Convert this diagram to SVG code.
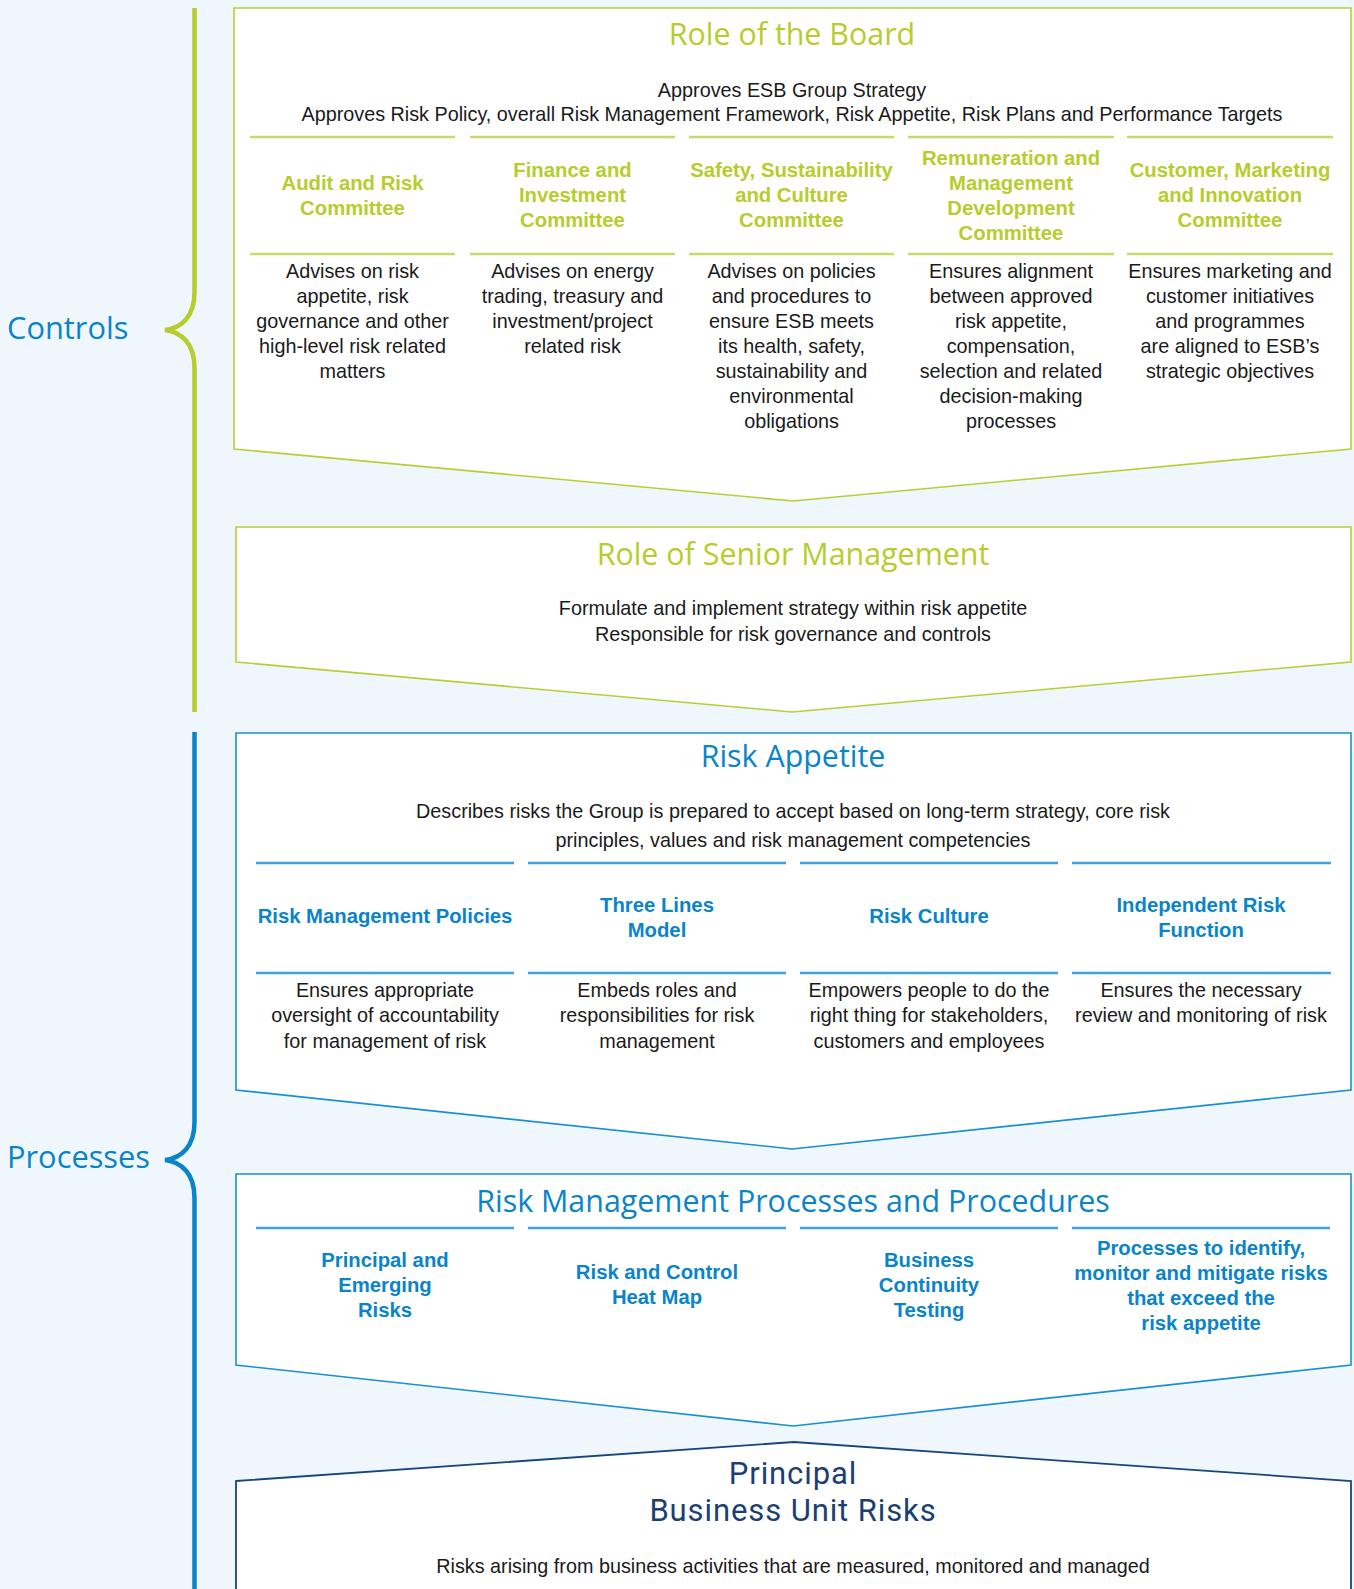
<svg xmlns="http://www.w3.org/2000/svg" width="1354" height="1589" viewBox="0 0 1354 1589">
<style>
.body{font-family:"Liberation Sans",Arial,sans-serif;font-size:19.8px;fill:#1a1a1a;text-anchor:middle}
.gh{font-family:"Liberation Sans",Arial,sans-serif;font-size:20.3px;font-weight:bold;fill:#b5cd2d;text-anchor:middle}
.bh{font-family:"Liberation Sans",Arial,sans-serif;font-size:20.3px;font-weight:bold;fill:#0a84c9;text-anchor:middle}
.title{font-family:"Open Sans","Noto Sans",sans-serif;font-size:30.4px;text-anchor:middle}
.ntitle{font-family:Roboto,"Open Sans",sans-serif;font-size:31px;letter-spacing:0.9px;fill:#1b3f73;text-anchor:middle}
.side{font-family:"Open Sans","Noto Sans",sans-serif;font-size:30.8px;fill:#0a84c9}
.gbox{fill:#fff;stroke:#b7cf35;stroke-width:1.6}
.bbox{fill:#fff;stroke:#1a8fd3;stroke-width:1.6}
.nbox{fill:#fff;stroke:#17467e;stroke-width:1.8}
.gsep{stroke:#c6da6a;stroke-width:2.4}
.bsep{stroke:#3ea3dc;stroke-width:2.4}
</style>
<rect x="0" y="0" width="1354" height="1589" fill="#eff7fd"/>

<g id="controls-brace">
<path d="M194.5,8 V292 C194.5,316 182,328 165,330 C182,332 194.5,344 194.5,368 V712" fill="none" stroke="#b5cd2d" stroke-width="4.5"/>
<text class="side" x="7" y="339">Controls</text>
</g>

<g id="processes-brace">
<path d="M194.5,732 V1122 C194.5,1146 182,1158 165,1160 C182,1162 194.5,1174 194.5,1198 V1589" fill="none" stroke="#0a84c9" stroke-width="4.5"/>
<text class="side" x="7" y="1168">Processes</text>
</g>

<g id="board">
<polygon class="gbox" points="234,8 1351,8 1351,449 793,501 234,449"/>
<text class="title" x="792" y="45" fill="#b5cd2d">Role of the Board</text>
<text class="body" x="792" y="97">Approves ESB Group Strategy</text>
<text class="body" x="792" y="121">Approves Risk Policy, overall Risk Management Framework, Risk Appetite, Risk Plans and Performance Targets</text>
<line class="gsep" x1="250" y1="137" x2="455" y2="137"/>
<line class="gsep" x1="470" y1="137" x2="675" y2="137"/>
<line class="gsep" x1="689" y1="137" x2="894" y2="137"/>
<line class="gsep" x1="908" y1="137" x2="1114" y2="137"/>
<line class="gsep" x1="1127" y1="137" x2="1333" y2="137"/>
<line class="gsep" x1="250" y1="254" x2="455" y2="254"/>
<line class="gsep" x1="470" y1="254" x2="675" y2="254"/>
<line class="gsep" x1="689" y1="254" x2="894" y2="254"/>
<line class="gsep" x1="908" y1="254" x2="1114" y2="254"/>
<line class="gsep" x1="1127" y1="254" x2="1333" y2="254"/>
<text class="gh" x="352.5" y="190">Audit and Risk</text>
<text class="gh" x="352.5" y="215">Committee</text>
<text class="gh" x="572.5" y="177">Finance and</text>
<text class="gh" x="572.5" y="202">Investment</text>
<text class="gh" x="572.5" y="227">Committee</text>
<text class="gh" x="791.5" y="177">Safety, Sustainability</text>
<text class="gh" x="791.5" y="202">and Culture</text>
<text class="gh" x="791.5" y="227">Committee</text>
<text class="gh" x="1011" y="165">Remuneration and</text>
<text class="gh" x="1011" y="190">Management</text>
<text class="gh" x="1011" y="215">Development</text>
<text class="gh" x="1011" y="240">Committee</text>
<text class="gh" x="1230" y="177">Customer, Marketing</text>
<text class="gh" x="1230" y="202">and Innovation</text>
<text class="gh" x="1230" y="227">Committee</text>
<text class="body" x="352.5" y="278">Advises on risk</text>
<text class="body" x="352.5" y="303">appetite, risk</text>
<text class="body" x="352.5" y="328">governance and other</text>
<text class="body" x="352.5" y="353">high-level risk related</text>
<text class="body" x="352.5" y="378">matters</text>
<text class="body" x="572.5" y="278">Advises on energy</text>
<text class="body" x="572.5" y="303">trading, treasury and</text>
<text class="body" x="572.5" y="328">investment/project</text>
<text class="body" x="572.5" y="353">related risk</text>
<text class="body" x="791.5" y="278">Advises on policies</text>
<text class="body" x="791.5" y="303">and procedures to</text>
<text class="body" x="791.5" y="328">ensure ESB meets</text>
<text class="body" x="791.5" y="353">its health, safety,</text>
<text class="body" x="791.5" y="378">sustainability and</text>
<text class="body" x="791.5" y="403">environmental</text>
<text class="body" x="791.5" y="428">obligations</text>
<text class="body" x="1011" y="278">Ensures alignment</text>
<text class="body" x="1011" y="303">between approved</text>
<text class="body" x="1011" y="328">risk appetite,</text>
<text class="body" x="1011" y="353">compensation,</text>
<text class="body" x="1011" y="378">selection and related</text>
<text class="body" x="1011" y="403">decision-making</text>
<text class="body" x="1011" y="428">processes</text>
<text class="body" x="1230" y="278">Ensures marketing and</text>
<text class="body" x="1230" y="303">customer initiatives</text>
<text class="body" x="1230" y="328">and programmes</text>
<text class="body" x="1230" y="353">are aligned to ESB’s</text>
<text class="body" x="1230" y="378">strategic objectives</text>
</g>

<g id="senior-management">
<polygon class="gbox" points="236,527 1351,527 1351,662 792,712 236,662"/>
<text class="title" x="793" y="565" fill="#b5cd2d">Role of Senior Management</text>
<text class="body" x="793" y="615">Formulate and implement strategy within risk appetite</text>
<text class="body" x="793" y="641">Responsible for risk governance and controls</text>
</g>

<g id="risk-appetite">
<polygon class="bbox" points="236,733 1351,733 1351,1090 792,1149 236,1090"/>
<text class="title" x="793" y="767" fill="#0a84c9">Risk Appetite</text>
<text class="body" x="793" y="818">Describes risks the Group is prepared to accept based on long-term strategy, core risk</text>
<text class="body" x="793" y="847">principles, values and risk management competencies</text>
<line class="bsep" x1="256" y1="863" x2="514" y2="863"/>
<line class="bsep" x1="528" y1="863" x2="786" y2="863"/>
<line class="bsep" x1="800" y1="863" x2="1058" y2="863"/>
<line class="bsep" x1="1072" y1="863" x2="1331" y2="863"/>
<line class="bsep" x1="256" y1="973" x2="514" y2="973"/>
<line class="bsep" x1="528" y1="973" x2="786" y2="973"/>
<line class="bsep" x1="800" y1="973" x2="1058" y2="973"/>
<line class="bsep" x1="1072" y1="973" x2="1331" y2="973"/>
<text class="bh" x="385" y="923">Risk Management Policies</text>
<text class="bh" x="657" y="912">Three Lines</text>
<text class="bh" x="657" y="937">Model</text>
<text class="bh" x="929" y="923">Risk Culture</text>
<text class="bh" x="1201" y="912">Independent Risk</text>
<text class="bh" x="1201" y="937">Function</text>
<text class="body" x="385" y="997">Ensures appropriate</text>
<text class="body" x="385" y="1022">oversight of accountability</text>
<text class="body" x="385" y="1048">for management of risk</text>
<text class="body" x="657" y="997">Embeds roles and</text>
<text class="body" x="657" y="1022">responsibilities for risk</text>
<text class="body" x="657" y="1048">management</text>
<text class="body" x="929" y="997">Empowers people to do the</text>
<text class="body" x="929" y="1022">right thing for stakeholders,</text>
<text class="body" x="929" y="1048">customers and employees</text>
<text class="body" x="1201" y="997">Ensures the necessary</text>
<text class="body" x="1201" y="1022">review and monitoring of risk</text>
</g>

<g id="processes-procedures">
<polygon class="bbox" points="236,1174 1351,1174 1351,1365 793,1426 236,1365"/>
<text class="title" x="793" y="1212" fill="#0a84c9">Risk Management Processes and Procedures</text>
<line class="bsep" x1="256" y1="1228" x2="514" y2="1228"/>
<line class="bsep" x1="528" y1="1228" x2="786" y2="1228"/>
<line class="bsep" x1="800" y1="1228" x2="1058" y2="1228"/>
<line class="bsep" x1="1072" y1="1228" x2="1330" y2="1228"/>
<text class="bh" x="385" y="1267">Principal and</text>
<text class="bh" x="385" y="1292">Emerging</text>
<text class="bh" x="385" y="1317">Risks</text>
<text class="bh" x="657" y="1279">Risk and Control</text>
<text class="bh" x="657" y="1304">Heat Map</text>
<text class="bh" x="929" y="1267">Business</text>
<text class="bh" x="929" y="1292">Continuity</text>
<text class="bh" x="929" y="1317">Testing</text>
<text class="bh" x="1201" y="1255">Processes to identify,</text>
<text class="bh" x="1201" y="1280">monitor and mitigate risks</text>
<text class="bh" x="1201" y="1305">that exceed the</text>
<text class="bh" x="1201" y="1330">risk appetite</text>
</g>

<g id="business-unit-risks">
<polygon class="nbox" points="236,1481 794,1442 1351,1481 1351,1600 236,1600"/>
<text class="ntitle" x="793" y="1484">Principal</text>
<text class="ntitle" x="793" y="1521">Business Unit Risks</text>
<text class="body" x="793" y="1573">Risks arising from business activities that are measured, monitored and managed</text>
</g>
</svg>
